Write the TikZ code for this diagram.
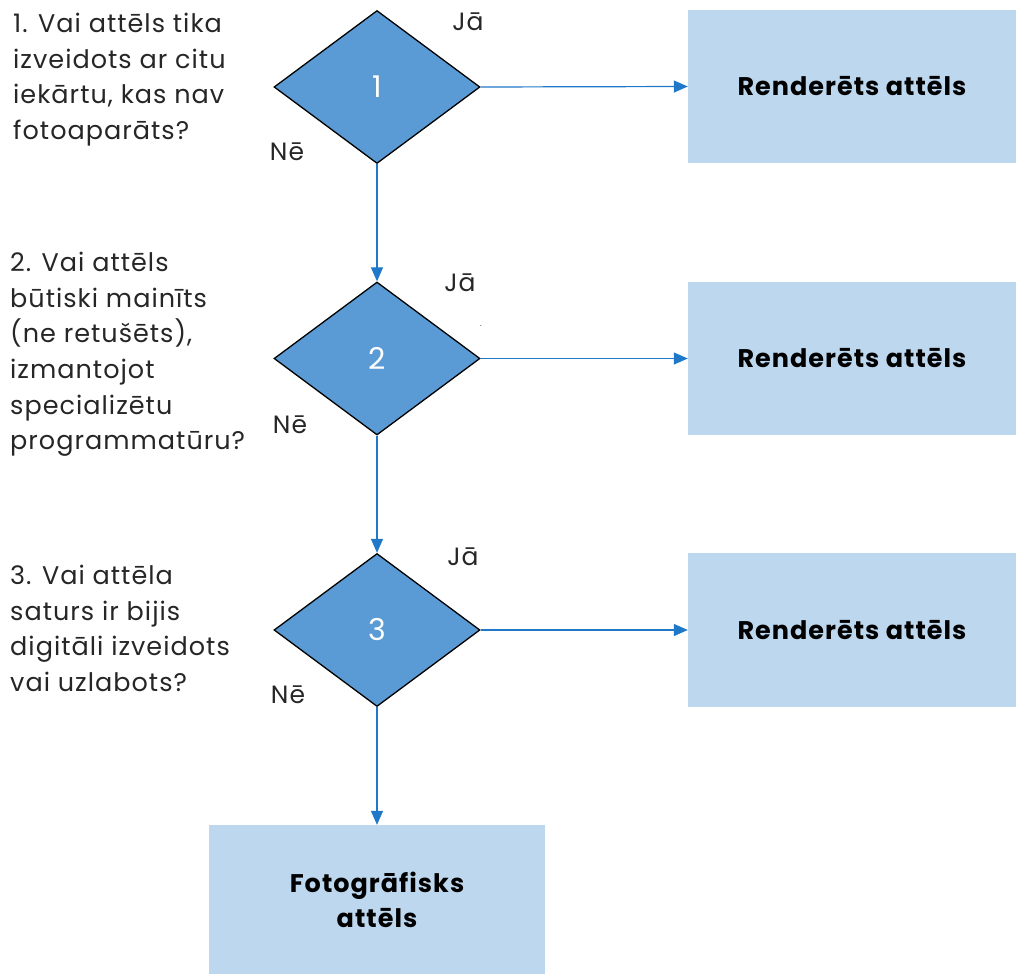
\documentclass[tikz,border=0pt]{standalone}
\usepackage{fontspec}
\setmainfont{Poppins}[LetterSpace=4]
\usetikzlibrary{shapes.geometric,arrows.meta}
\definecolor{diafill}{HTML}{5B9BD5}
\definecolor{boxfill}{HTML}{BDD7EE}
\definecolor{flowblue}{HTML}{1F78C8}
\tikzset{
  decision/.style={diamond,draw=black,line width=1.3pt,fill=diafill,inner sep=0pt,
    minimum width=206pt,minimum height=153pt,aspect=1.35,text=white,font=\fontsize{30}{32}\selectfont},
  resultbox/.style={rectangle,fill=boxfill,inner sep=0pt,align=center,
    font=\fontsize{25.5}{35}\selectfont\bfseries},
  question/.style={anchor=north west,align=left,inner sep=0pt,font=\fontsize{25.5}{35.6}\selectfont,text=black!85},
  answer/.style={inner sep=0pt,font=\fontsize{25}{28}\selectfont,text=black!85},
  flow/.style={draw=flowblue,line width=1.2pt,-{Triangle[length=14pt,width=12pt]}}
}
\begin{document}
\begin{tikzpicture}[x=1pt,y=-1pt]
\useasboundingbox (0,0) rectangle (1016,974);

\node[decision] (q1) at (377,87) {1};
\node[decision] (q2) at (377,358.5) {2};
\node[decision] (q3) at (377,630) {3};

\node[resultbox,minimum width=328pt,minimum height=153pt] (r1) at (852,86.5) {Renderēts attēls};
\node[resultbox,minimum width=328pt,minimum height=153pt] (r2) at (852,358.5) {Renderēts attēls};
\node[resultbox,minimum width=328pt,minimum height=154pt] (r3) at (852,630) {Renderēts attēls};
\node[resultbox,minimum width=336pt,minimum height=149pt] (foto) at (377,899.5) {Fotogrāfisks\\attēls};

\draw[flow] (q1.east) -- (r1.west);
\draw[flow] (q2.east) -- (r2.west);
\draw[flow] (q3.east) -- (r3.west);
\draw[flow] (q1.south) -- (q2.north);
\draw[flow] (q2.south) -- (q3.north);
\draw[flow] (q3.south) -- (foto.north);

\node[question] (t1) at (13,13) {1. Vai attēls tika\\izveidots ar citu\\iekārtu, kas nav\\fotoaparāts?};
\node[question] (t2) at (10,252) {2. Vai attēls\\būtiski mainīts\\(ne retušēts),\\izmantojot\\specializētu\\programmatūru?};
\node[question] (t3) at (10,565) {3. Vai attēla\\saturs ir bijis\\digitāli izveidots\\vai uzlabots?};

\node[answer] (ja1) at (468,22) {Jā};
\node[answer] (ja2) at (460,283) {Jā};
\node[answer] (ja3) at (463,557) {Jā};
\node[answer] (ne1) at (287,152) {Nē};
\node[answer] (ne2) at (290,425) {Nē};
\node[answer] (ne3) at (288,695) {Nē};
\node[answer,font=\fontsize{8}{8}\selectfont] (dot) at (481,326) {.};
\end{tikzpicture}
\end{document}
